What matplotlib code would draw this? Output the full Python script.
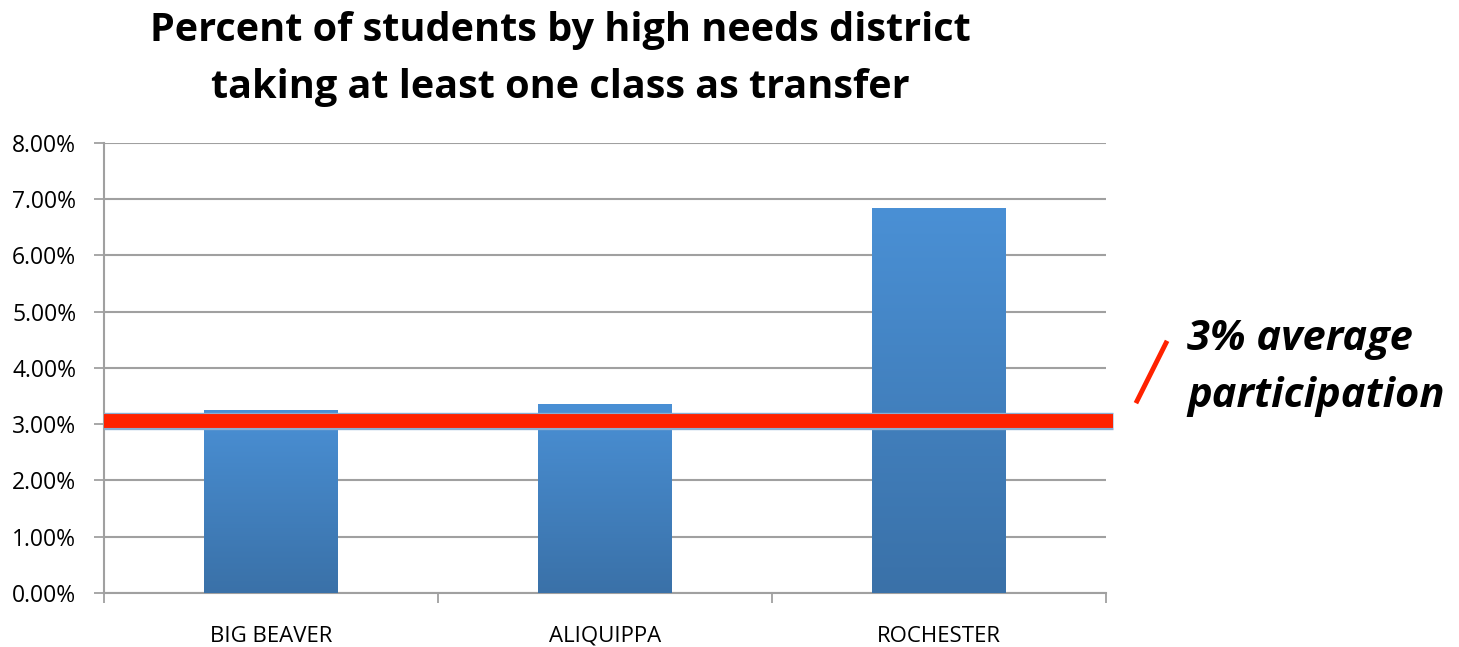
import numpy as np
import matplotlib
matplotlib.use("Agg")
import matplotlib.pyplot as plt
import matplotlib.patheffects as pe
from matplotlib.colors import LinearSegmentedColormap
from matplotlib.ticker import FuncFormatter

# data
districts = ["BIG BEAVER", "ALIQUIPPA", "ROCHESTER"]
pct_transfer = [0.0325, 0.0336, 0.0683]
avg_pct = 0.0305
title = "Percent of students by high needs district\ntaking at least one class as transfer"
note = "3% average\nparticipation"

fig = plt.figure(figsize=(14.59, 6.47), dpi=100)
ax = fig.add_axes([0.0713, 0.0835, 0.6868, 0.6955])

x = np.arange(len(districts))
bars = ax.bar(x, pct_transfer, width=0.40, color="none", zorder=3)

# gradient fill for bars (lighter on top)
cmap = LinearSegmentedColormap.from_list("blu", ["#3A71A8", "#4A90D5"])
grad = np.linspace(0, 1, 256).reshape(-1, 1)
for b in bars:
    x0, y0 = b.get_x(), b.get_y()
    w, h = b.get_width(), b.get_height()
    ax.imshow(grad, cmap=cmap, origin="lower", aspect="auto",
              extent=[x0, x0 + w, y0, y0 + h], zorder=3)

ax.set_xlim(-0.5, 2.5)
ax.set_ylim(0, 0.08)
ax.set_yticks(np.arange(0, 0.081, 0.01))
ax.yaxis.set_major_formatter(FuncFormatter(lambda v, p: f"{v*100:.2f}%"))
ax.set_xticks(x)
ax.set_xticklabels(districts, fontsize=16, family="Open Sans")
ax.set_xticks([-0.5, 0.5, 1.5, 2.5], minor=True)
ax.tick_params(axis="x", which="major", length=0, pad=23.5)
ax.tick_params(axis="x", which="minor", length=7, color="#A0A0A0", width=1.3)
ax.tick_params(axis="y", length=7, color="#A0A0A0", width=1.3, labelsize=16.5, pad=13)
for lab in ax.get_yticklabels():
    lab.set_family("Open Sans")

ax.grid(axis="y", color="#A0A0A0", linewidth=1.5, zorder=0)
ax.set_axisbelow(True)
for s in ["top", "right"]:
    ax.spines[s].set_visible(False)
for s in ["left", "bottom"]:
    ax.spines[s].set_color("#A0A0A0")
    ax.spines[s].set_linewidth(1.5)

# average line
ax.plot([-0.5, 2.52], [avg_pct, avg_pct], color="#FF2200", linewidth=10,
        solid_capstyle="butt", zorder=5, clip_on=False,
        path_effects=[pe.Stroke(linewidth=12.5, foreground="#8AAED3"), pe.Normal()])

# slash and note
fig.add_artist(plt.Line2D([1137 / 1459, 1166 / 1459], [1 - 401 / 647, 1 - 343 / 647],
                          color="#FF2200", linewidth=3.5))
fig.text(1187 / 1459, 1 - 368 / 647, note, fontsize=30, fontweight="bold",
         style="italic", family="Open Sans", ha="left", va="center",
         linespacing=1.5)

fig.text(560 / 1459, 1 - 59 / 647, title, fontsize=28.5, fontweight="bold",
         family="Open Sans", ha="center", va="center", linespacing=1.6)

fig.savefig("out.png", dpi=100)
